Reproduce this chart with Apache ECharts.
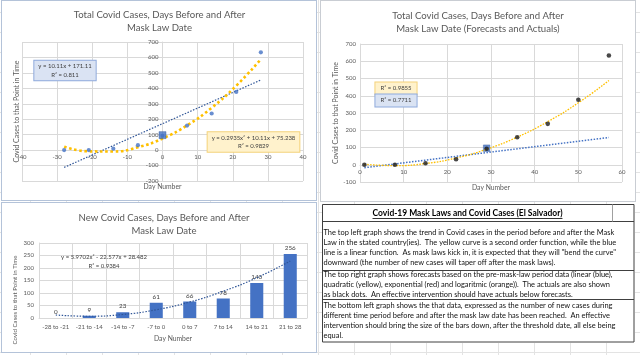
<!DOCTYPE html>
<html><head><meta charset="utf-8">
<script src="https://cdn.jsdelivr.net/npm/echarts@6/dist/echarts.min.js"></script>
<style>
html,body{margin:0;padding:0;width:640px;height:355px;overflow:hidden;background:#fff}
#sheet{position:absolute;left:0;top:0;width:640px;height:355px;
 background-image:linear-gradient(to right,#E3E3E3 1px,transparent 1px),linear-gradient(to bottom,#E3E3E3 1px,transparent 1px);
 background-size:36px 20px;background-position:30px 12px;}
.panel{position:absolute;background:#fff;box-sizing:border-box}
#p1{left:1px;top:0;width:316px;height:201px;border:1px solid #B4C3D9}
#p2{left:320px;top:0;width:316px;height:202px;border:1px solid #C9CDD3}
#p3{left:1px;top:202px;width:316px;height:151px;border:1px solid #B4C3D9}
#p4{left:322px;top:204px;width:313px;height:139px}
#main{position:absolute;left:0;top:0;width:640px;height:355px}
</style></head>
<body>
<div id="sheet"></div>
<div class="panel" id="p1"></div>
<div class="panel" id="p2"></div>
<div class="panel" id="p3"></div>
<div class="panel" id="p4"></div>
<div id="main"></div>
<script>
// ---------- DATA ----------
// Top-left: total cases vs day number relative to mask law date
const tlDays = [-28, -21, -14, -7, 0, 7, 14, 21, 28];
const tlTotals = [0, 0, 9, 32, 93, 159, 237, 377, 633];
const tlMaskDay = [0];
const tlMaskValue = [97];
const tlLinearDays = [-28, 28];
const tlLinearTrend = [-112, 454];
const tlQuadTrend = [22, -8, -9, 19, 75, 160, 274, 417, 588];
const tlLinearLabel = 'y = 10.11x + 171.11\nR² = 0.811';
const tlQuadLabel = 'y = 0.2935x² + 10.11x + 75.238\nR² = 0.9829';

// Top-right: forecasts and actuals
const trDays = [1, 8, 15, 22, 29, 36, 43, 50, 57];
const trActuals = [0, 0, 9, 32, 93, 159, 237, 377, 633];
const trMaskDay = [29];
const trMaskValue = [96];
const trQuadForecast = [3, -5, 7, 39, 90, 160, 250, 359, 488];
const trLinearDays = [1, 57];
const trLinearForecast = [-17, 158];
const trQuadLabel = 'R² = 0.9855';
const trLinearLabel = 'R² = 0.7711';

// Bottom-left: new cases per period
const blCategories = ['-28 to -21', '-21 to -14', '-14 to -7', '-7 to 0', '0 to 7', '7 to 14', '14 to 21', '21 to 28'];
const blNewCases = [0, 9, 23, 61, 66, 78, 140, 256];
const blTrend = [12, 7, 14, 33, 64, 107, 161, 228];
const blTrendLabel = 'y = 5.9702x² - 22.577x + 28.482\nR² = 0.9384';

// Titles / text
const tlTitle = 'Total Covid Cases, Days Before and After\nMask Law Date';
const trTitle = 'Total Covid Cases, Days Before and After\nMask Law Date (Forecasts and Actuals)';
const blTitle = 'New Covid Cases, Days Before and After\nMask Law Date';
const xName = 'Day Number';
const yName = 'Covid Cases to that Point in Time';
const boxHeader = 'Covid-19 Mask Laws and Covid Cases (El Salvador)';
const boxParagraphs = [
  ['The top left graph shows the trend in Covid cases in the period before and after the Mask',
   'Law in the stated country(ies).  The yellow curve is a second order function, while the blue',
   'line is a linear function.  As mask laws kick in, it is expected that they will "bend the curve"',
   'downward (the number of new cases will taper off after the mask laws).'],
  ['The top right graph shows forecasts based on the pre-mask-law period data (linear (blue),',
   'quadratic (yellow), exponential (red) and logaritmic (orange)).  The actuals are also shown',
   'as black dots.  An effective intervention should have actuals below forecasts.'],
  ['The bottom left graph shows the that data, expressed as the number of new cases during',
   'different time period before and after the mask law date has been reached.  An effective',
   'intervention should bring the size of the bars down, after the threshold date, all else being',
   'equal.']
];

// ---------- HELPERS ----------
const FONT = 'Lato, "Liberation Sans", sans-serif';
const mctx = document.createElement('canvas').getContext('2d');
function fit(text, target, weight) {
  mctx.font = (weight || 'normal') + ' 20px ' + FONT;
  return 20 * target / mctx.measureText(text).width;
}
function zip(a, b) { return a.map((v, i) => [v, b[i]]); }

const fsTitle = fit('Total Covid Cases, Days Before and After', 172);
const fsYName = fit(yName, 102);
const fsYNameBL = fit(yName, 89);
const fsXName = fit(xName, 38);
const fsTick = 6;
const fsCat = fit('-28 to -21', 27);
const fsBody = fit(boxParagraphs[0][0], 291);
const fsHeader = fit(boxHeader, 190, 'bold');

const GRID = '#D9D9D9';
const LBL = '#595959';

function valAxis(o) {
  return Object.assign({
    type: 'value',
    axisLine: { show: true, onZero: false, lineStyle: { color: GRID, width: 1 } },
    axisTick: { show: false },
    splitLine: { show: true, lineStyle: { color: GRID, width: 1 } },
    axisLabel: { fontSize: fsTick, color: LBL, fontFamily: FONT, margin: 4 },
    nameTextStyle: { fontSize: fsXName, color: LBL, fontFamily: FONT },
    nameMoveOverlap: false
  }, o);
}

const chart = echarts.init(document.getElementById('main'), null, { renderer: 'canvas' });

// text box graphics
const g = [];
g.push({ type: 'rect', shape: { x: 322.5, y: 204.5, width: 311.5, height: 137.5 }, style: { fill: 'none', stroke: '#404040', lineWidth: 1 }, z: 50 });
[221.5, 270.5, 299.5].forEach(y => g.push({ type: 'line', shape: { x1: 322.5, y1: y, x2: 634, y2: y }, style: { stroke: '#404040', lineWidth: 1 }, z: 50 }));
g.push({ type: 'line', shape: { x1: 612.5, y1: 204.5, x2: 612.5, y2: 221.5 }, style: { stroke: '#A0A0A0', lineWidth: 1 }, z: 50 });
mctx.font = 'bold ' + fsHeader + 'px ' + FONT;
const hw = mctx.measureText(boxHeader).width;
g.push({ type: 'text', x: 467.5, y: 213.5, style: { text: boxHeader, fontSize: fsHeader, fontWeight: 'bold', fontFamily: FONT, fill: '#000', align: 'center', verticalAlign: 'middle' }, z: 50 });
g.push({ type: 'line', shape: { x1: 467.5 - hw / 2, y1: 218.5, x2: 467.5 + hw / 2, y2: 218.5 }, style: { stroke: '#000', lineWidth: 0.8 }, z: 50 });
const paraStarts = [233, 275, 306];
boxParagraphs.forEach((p, pi) => {
  p.forEach((line, li) => {
    g.push({ type: 'text', x: 323.5, y: paraStarts[pi] + li * 10, style: { text: line, fontSize: fsBody, fontFamily: FONT, fill: '#111', align: 'left', verticalAlign: 'middle' }, z: 50 });
  });
});
// trend labels
const lblStyle = { fontSize: 6, fontFamily: FONT, fill: '#404040', align: 'center', verticalAlign: 'middle', lineHeight: 8.5 };
g.push({ type: 'text', x: 65, y: 70.5, style: Object.assign({}, lblStyle, { text: tlLinearLabel, backgroundColor: '#DAE3F3', borderColor: '#8FAADC', borderWidth: 1, padding: [1.5, 4, 1, 4] }), z: 40 });
g.push({ type: 'text', x: 253.5, y: 142, style: Object.assign({}, lblStyle, { text: tlQuadLabel, backgroundColor: '#FFF2CC', borderColor: '#F4D27A', borderWidth: 1, padding: [1.5, 4, 1, 4] }), z: 40 });
g.push({ type: 'text', x: 396, y: 88.5, style: Object.assign({}, lblStyle, { text: trQuadLabel, backgroundColor: '#FFF2CC', borderColor: '#F4D27A', borderWidth: 1, padding: [2, 5, 1.5, 5] }), z: 40 });
g.push({ type: 'text', x: 396, y: 100.5, style: Object.assign({}, lblStyle, { text: trLinearLabel, backgroundColor: '#DAE3F3', borderColor: '#8FAADC', borderWidth: 1, padding: [2, 5, 1.5, 5] }), z: 40 });
g.push({ type: 'text', x: 104, y: 261.5, style: Object.assign({}, lblStyle, { text: blTrendLabel }), z: 40 });
// bottom-left y axis title
g.push({ type: 'text', x: 15, y: 300, rotation: Math.PI / 2, style: { text: yName, fontSize: fsYNameBL, fontFamily: FONT, fill: LBL, align: 'center', verticalAlign: 'middle' }, z: 40 });

const titleStyle = { fontSize: fsTitle, fontWeight: 'normal', color: LBL, fontFamily: FONT, lineHeight: 12.7 };

const option = {
  backgroundColor: 'transparent',
  animation: false,
  title: [
    { text: tlTitle, left: 159.5, top: 8.8, textAlign: 'center', padding: 0, textStyle: titleStyle },
    { text: trTitle, left: 478, top: 9, textAlign: 'center', padding: 0, textStyle: Object.assign({}, titleStyle, { lineHeight: 13.6 }) },
    { text: blTitle, left: 164, top: 211.5, textAlign: 'center', padding: 0, textStyle: titleStyle }
  ],
  grid: [
    { left: 22, top: 42, width: 281, height: 139, outerBoundsMode: 'none', containLabel: false },
    { left: 360, top: 44, width: 262, height: 138, outerBoundsMode: 'none', containLabel: false },
    { left: 39, top: 243, width: 268, height: 75, outerBoundsMode: 'none', containLabel: false }
  ],
  xAxis: [
    // axis drawn at y = 0 (Excel style): offset moves it up from the bottom edge
    valAxis({ gridIndex: 0, min: -40, max: 40, interval: 10, offset: -30.9, name: xName, nameLocation: 'middle', nameGap: 33 }),
    valAxis({ gridIndex: 1, min: 0, max: 60, interval: 10, offset: -17.25, name: xName, nameLocation: 'middle', nameGap: 20 }),
    {
      type: 'category', gridIndex: 2, data: blCategories,
      axisLine: { show: true, lineStyle: { color: GRID } }, axisTick: { show: false },
      splitLine: { show: true, lineStyle: { color: GRID } },
      axisLabel: { fontSize: fsCat, color: LBL, fontFamily: FONT, margin: 6, interval: 0 },
      name: xName, nameLocation: 'middle', nameGap: 17, nameMoveOverlap: false,
      nameTextStyle: { fontSize: fsXName, color: LBL, fontFamily: FONT }
    }
  ],
  yAxis: [
    // axis drawn at x = 0: offset moves it right from the left edge
    valAxis({ gridIndex: 0, min: -200, max: 700, interval: 100, offset: -140.5, name: yName, nameLocation: 'middle', nameRotate: 90, nameGap: 142, nameTextStyle: { fontSize: fsYName, color: LBL, fontFamily: FONT } }),
    valAxis({ gridIndex: 1, min: -100, max: 700, interval: 100, name: yName, nameLocation: 'middle', nameRotate: 90, nameGap: 21, nameTextStyle: { fontSize: fsYName, color: LBL, fontFamily: FONT } }),
    valAxis({ gridIndex: 2, min: 0, max: 300, interval: 50, axisLabel: { fontSize: fsTick, color: LBL, fontFamily: FONT, margin: 5 } })
  ],
  series: [
    // top-left
    { type: 'line', name: 'Linear trend', xAxisIndex: 0, yAxisIndex: 0, data: zip(tlLinearDays, tlLinearTrend), symbol: 'none', silent: true,
      lineStyle: { color: '#2F5597', width: 1.2, type: [1.5, 1.5] }, z: 3 },
    { type: 'line', name: 'Quadratic trend', xAxisIndex: 0, yAxisIndex: 0, data: zip(tlDays, tlQuadTrend), smooth: true, symbol: 'none', silent: true,
      lineStyle: { color: '#FFC000', width: 2.6, type: [2.6, 2.6] }, z: 3 },
    { type: 'scatter', name: 'Mask law date', xAxisIndex: 0, yAxisIndex: 0, data: zip(tlMaskDay, tlMaskValue), symbol: 'rect', symbolSize: 7,
      itemStyle: { color: '#4472C4', borderColor: '#2F5597', borderWidth: 0.5 }, z: 4 },
    { type: 'scatter', name: 'Total cases', xAxisIndex: 0, yAxisIndex: 0, data: zip(tlDays, tlTotals), symbolSize: 4.2,
      itemStyle: { color: '#4472C4' }, z: 5 },
    // top-right
    { type: 'scatter', name: 'Mask law date', xAxisIndex: 1, yAxisIndex: 1, data: zip(trMaskDay, trMaskValue), symbol: 'rect', symbolSize: 6.5,
      itemStyle: { color: '#4472C4', borderColor: '#2F5597', borderWidth: 0.5 }, z: 2 },
    { type: 'line', name: 'Linear forecast', xAxisIndex: 1, yAxisIndex: 1, data: zip(trLinearDays, trLinearForecast), symbol: 'none', silent: true,
      lineStyle: { color: '#4472C4', width: 1.5, type: [1.5, 1.5] }, z: 3 },
    { type: 'line', name: 'Quadratic forecast', xAxisIndex: 1, yAxisIndex: 1, data: zip(trDays, trQuadForecast), smooth: true, symbol: 'none', silent: true,
      lineStyle: { color: '#FFC000', width: 1.3, type: [1.6, 1.3] }, z: 3 },
    { type: 'scatter', name: 'Actuals', xAxisIndex: 1, yAxisIndex: 1, data: zip(trDays, trActuals), symbolSize: 4.6,
      itemStyle: { color: '#1A1A1A' }, z: 5 },
    // bottom-left
    { type: 'bar', name: 'New cases', xAxisIndex: 2, yAxisIndex: 2, data: blNewCases, barWidth: '39%',
      itemStyle: { color: '#4472C4' },
      label: { show: true, position: 'top', distance: 3, fontSize: 6.3, color: '#404040', fontFamily: FONT }, z: 2 },
    { type: 'line', name: 'Trend', xAxisIndex: 2, yAxisIndex: 2, data: blTrend, smooth: true, symbol: 'none', silent: true,
      lineStyle: { color: '#2F5597', width: 1.2, type: [1.5, 1.5] }, z: 3 }
  ],
  graphic: { elements: g }
};
chart.setOption(option);
</script>
</body></html>
